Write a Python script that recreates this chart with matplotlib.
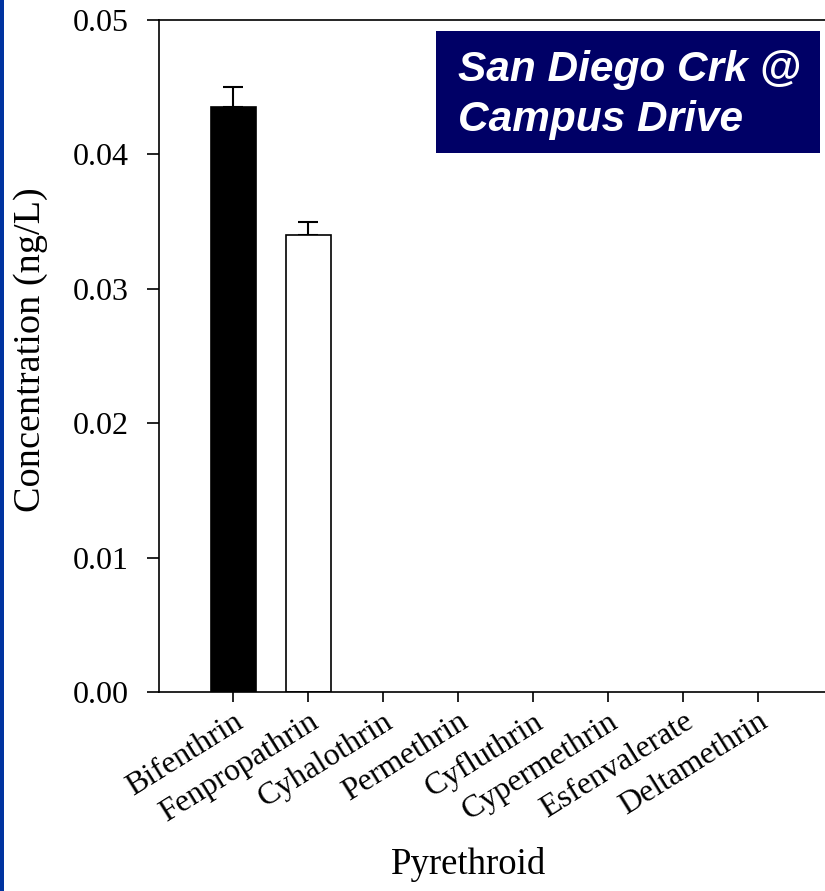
import numpy as np
import matplotlib.pyplot as plt
from matplotlib.patches import Rectangle

# pyrethroid concentrations, San Diego Creek at Campus Drive
compounds = ["Bifenthrin", "Fenpropathrin", "Cyhalothrin", "Permethrin",
             "Cyfluthrin", "Cypermethrin", "Esfenvalerate", "Deltamethrin"]
conc = [0.0435, 0.0340, 0, 0, 0, 0, 0, 0]
conc_err = [0.0015, 0.0010, 0, 0, 0, 0, 0, 0]
bar_colors = ["black", "white", "white", "white", "white", "white", "white", "white"]

plt.rcParams['font.family'] = ['Liberation Serif', 'DejaVu Serif']

fig = plt.figure(figsize=(8.25, 8.91), dpi=100)
# thin blue strip down the left edge
fig.patches.append(Rectangle((0, 0), 4 / 825, 1, transform=fig.transFigure,
                             facecolor="#0033a0", edgecolor="none", zorder=0))

ax = fig.add_axes([159 / 825, 1 - 692 / 891, 674 / 825, 672 / 891])
x = np.arange(len(compounds))
drawn = [i for i, v in enumerate(conc) if v > 0]
ax.bar(x[drawn], [conc[i] for i in drawn], width=0.6,
       color=[bar_colors[i] for i in drawn], edgecolor="black", linewidth=1.2,
       zorder=2)
ax.errorbar(x[drawn], [conc[i] for i in drawn],
            yerr=[[0] * len(drawn), [conc_err[i] for i in drawn]],
            fmt="none", ecolor="black", elinewidth=1.5, capsize=7.5,
            capthick=1.5, zorder=1)

ax.set_xlim(-0.99, 8.0)
ax.set_ylim(0, 0.05)
ax.set_yticks([0, 0.01, 0.02, 0.03, 0.04, 0.05])
ax.set_yticklabels(["0.00", "0.01", "0.02", "0.03", "0.04", "0.05"])
ax.set_xticks(x)
ax.set_xticklabels(compounds, rotation=32, ha="right", rotation_mode="anchor")
ax.tick_params(axis="y", direction="out", length=9, width=1.2, labelsize=23, pad=13)
ax.tick_params(axis="x", direction="out", length=7, width=1.2, labelsize=23, pad=4)
for side in ["left", "bottom", "top"]:
    ax.spines[side].set_linewidth(1.2)
ax.spines["right"].set_visible(False)

ax.set_ylabel("Concentration (ng/L)", fontsize=27.5, va="center")
ax.yaxis.set_label_coords(-0.191, 0.509)
ax.set_xlabel("Pyrethroid", fontsize=26.5, va="center")
ax.xaxis.set_label_coords(0.459, -0.257)

# site label box
fig.patches.append(Rectangle((436 / 825, 1 - 153 / 891), 384 / 825, 122 / 891,
                             transform=fig.transFigure, facecolor="#000066",
                             edgecolor="none", zorder=3))
fig.text(458 / 825, 1 - 95 / 891, "San Diego Crk @\nCampus Drive",
         family=["Liberation Sans", "DejaVu Sans"], fontsize=30.5,
         fontweight="bold", fontstyle="italic", color="white",
         ha="left", va="center", linespacing=1.3, zorder=4)

fig.savefig("out.png", dpi=100)
